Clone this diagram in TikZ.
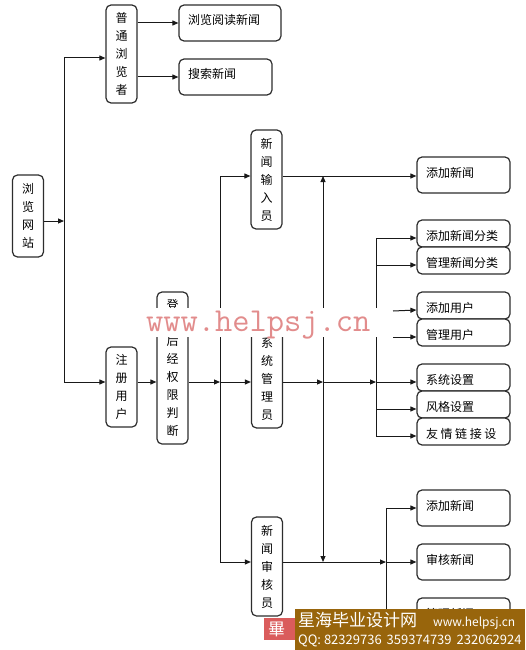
\documentclass[tikz,border=0pt]{standalone}
\usepackage{fontspec}
\setmainfont{Noto Sans CJK SC}
\setmonofont{Latin Modern Mono}
\usetikzlibrary{arrows.meta}
\definecolor{wmred}{RGB}{226,140,140}
\definecolor{bannerbg}{RGB}{152,101,12}
\definecolor{logored}{RGB}{218,92,92}
\definecolor{boxline}{RGB}{45,45,45}
\begin{document}
\begin{tikzpicture}[x=1pt,y=-1pt,
  box/.style={draw=boxline, line width=1.2pt, rounded corners=5pt, fill=white},
  vbox/.style={box, minimum width=31pt, align=center, inner sep=0pt,
    font=\fontsize{12}{18}\selectfont},
  hbox/.style={box, minimum height=36pt, text width=75pt, align=left,
    inner xsep=9pt, inner ysep=0pt, font=\fontsize{12}{14}\selectfont,
    text height=9pt, text depth=5pt},
  sbox/.style={hbox, minimum height=27pt, text height=14pt, text depth=0pt},
  conn/.style={line width=1pt, draw=black!90},
  arr/.style={conn, -{Triangle[length=6pt,width=5pt]}},
]
\useasboundingbox (0,0) rectangle (525,650);
\fill[white] (0,0) rectangle (525,650);

% vertical boxes
\node[vbox, minimum height=82pt] (site) at (28,216) {浏\\览\\网\\站};
\node[vbox, minimum height=98pt] (browser) at (121.5,54) {普\\通\\浏\\览\\者};
\node[vbox, minimum height=80pt] (reg) at (121.5,387) {注\\册\\用\\户};
\node[vbox, minimum height=152pt] (login) at (172.5,368) {登\\录\\后\\经\\权\\限\\判\\断};
\node[vbox, minimum height=99pt] (ni) at (266.5,179.5) {新\\闻\\输\\入\\员};
\node[vbox, minimum height=98pt] (sa) at (267,379) {系\\统\\管\\理\\员};
\node[vbox, minimum height=99pt] (rv) at (267,566.5) {新\\闻\\审\\核\\员};

% horizontal boxes
\node[hbox, text width=84pt] (r1) at (230,23) {浏览阅读新闻};
\node[hbox] (r2) at (225.5,77) {搜索新闻};
\node[hbox] (a1) at (463.5,175) {添加新闻};
\node[sbox] (c1) at (463.5,233.5) {添加新闻分类};
\node[sbox] (c2) at (463.5,260.5) {管理新闻分类};
\node[sbox] (c3) at (463.5,305.5) {添加用户};
\node[sbox] (c4) at (463.5,332.5) {管理用户};
\node[sbox] (c5) at (463.5,377.5) {系统设置};
\node[sbox] (c6) at (463.5,404.5) {风格设置};
\node[sbox] (c7) at (463.5,431.5) {友\hspace{2.6pt}情\hspace{2.6pt}链\hspace{2.6pt}接\hspace{2.6pt}设};
\node[hbox] (e1) at (463.5,508) {添加新闻};
\node[hbox] (e2) at (463.5,562) {审核新闻};
\node[hbox] (e3) at (463.5,616) {管理新闻};

% junctions
\coordinate (jA) at (64,221);
\coordinate (jTop) at (64,58);
\coordinate (jBot) at (64,382);
\coordinate (jB) at (220,382);
\coordinate (jBtop) at (220,176);
\coordinate (jBbot) at (220,562);
\coordinate (jC) at (323,382);
\coordinate (jCtop) at (323,176);
\coordinate (jCbot) at (323,562);
\coordinate (jD) at (376,382);
\coordinate (jE) at (386,562);
\coordinate (u1) at (393,311);
\coordinate (u2) at (393,337);
\foreach \n in {c1,c2,c3,c4,c5,c6,c7}{\coordinate (\n in) at ([yshift=-4.5pt]\n.west);}

% site -> browser / registered
\draw[arr] (site.east |- jA) -- (jA);
\draw[conn] (jTop) -- (jBot);
\draw[arr] (jTop) -- (browser.west |- jTop);
\draw[arr] (jBot) -- (reg.west |- jBot);
\draw[arr] (browser.east |- r1) -- (r1.west);
\draw[arr] (browser.east |- r2) -- (r2.west);
\draw[arr] (reg.east |- jBot) -- (login.west |- jBot);
\draw[arr] (login.east |- jB) -- (jB);
\draw[conn] (jBtop) -- (jBbot);
\draw[arr] (jBtop) -- (ni.west |- jBtop);
\draw[arr] (jB) -- (sa.west |- jB);
\draw[arr] (jBbot) -- (rv.west |- jBbot);

% news input
\draw[arr] (ni.east |- jCtop) -- (a1.west |- jCtop);
% system admin
\draw[arr] (sa.east |- jC) -- (jC);
\draw[arr] (jC) -- (jCtop);
\draw[arr] (jC) -- (jCbot);
\draw[arr] (jC) -- (jD);
\draw[conn] (jD |- c1in) -- (jD |- c7in);
\draw[arr] (jD |- c1in) -- (c1in);
\draw[arr] (jD |- c2in) -- (c2in);
\draw[arr] (jD) -- (c5in);
\draw[arr] (jD |- c6in) -- (c6in);
\draw[arr] (jD |- c7in) -- (c7in);
\draw[arr] (u1) -- (c3in);
\draw[arr] (u2) -- (c4in);
% reviewer
\draw[arr] (rv.east |- jE) -- (jE);
\draw[arr] (jE) -- (e2.west |- jE);
\draw[conn] (jE |- e1) -- (jE |- e3);
\draw[arr] (jE |- e1) -- (e1.west);
\draw[arr] (jE |- e3) -- (e3.west);

% watermark
\fill[white] (145,308) rectangle (384,337);
\node[anchor=base west, inner sep=0pt, text=wmred,
  font=\ttfamily\fontsize{33.5}{33.5}\selectfont] (wm) at (146,331) {www.helpsj.cn};

% banner
\fill[logored] (264,618) rectangle (296,640);
\node[anchor=west, inner sep=0pt, text=white, font=\fontsize{17}{17}\selectfont] (logo) at (268,629) {畢};
\fill[bannerbg] (295,609) rectangle (525,650);
\node[anchor=base west, inner sep=0pt, text=white, font=\fontsize{17}{17}\selectfont] (bt) at (298,626) {星海毕业设计网};
\node[anchor=base west, inner sep=0pt, text=white, font=\fontsize{12}{13}\selectfont] (bu) at (433,626) {www.helpsj.cn};
\node[anchor=base west, inner sep=0pt, text=white, font=\fontsize{13}{14}\selectfont] (bq) at (298,644.5) {QQ: 82329736\hspace{5pt}359374739\hspace{5pt}232062924};
\end{tikzpicture}
\end{document}
